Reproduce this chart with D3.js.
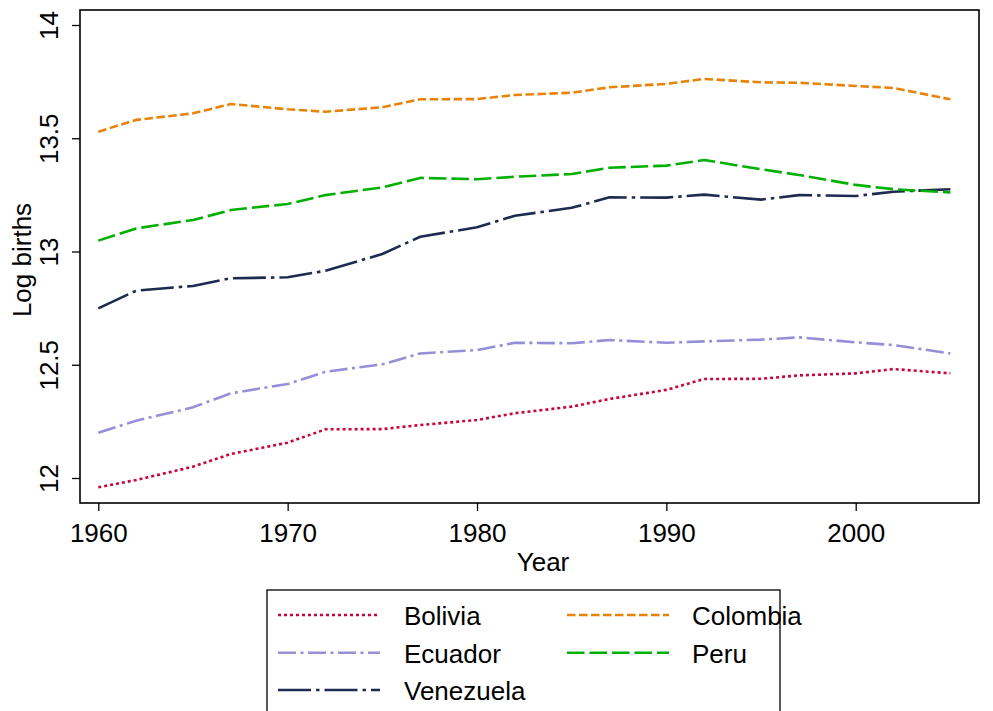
<!DOCTYPE html>
<html>
<head>
<meta charset="utf-8">
<script src="https://cdn.jsdelivr.net/npm/d3@7"></script>
<style>
  html, body { margin: 0; padding: 0; background: #fff; }
  svg { display: block; font-family: "Liberation Sans", Arial, sans-serif; }
</style>
</head>
<body>
<svg id="chart" width="993" height="711"></svg>
<script>
const years = [1960, 1962, 1965, 1967, 1970, 1972, 1975, 1977, 1980, 1982, 1985, 1987, 1990, 1992, 1995, 1997, 2000, 2002, 2005];
const bolivia   = [11.959, 11.991, 12.050, 12.106, 12.156, 12.215, 12.216, 12.234, 12.256, 12.286, 12.315, 12.349, 12.389, 12.437, 12.438, 12.453, 12.462, 12.481, 12.462];
const colombia  = [13.529, 13.581, 13.610, 13.651, 13.628, 13.617, 13.637, 13.672, 13.673, 13.691, 13.701, 13.725, 13.740, 13.762, 13.747, 13.745, 13.731, 13.722, 13.672];
const ecuador   = [12.200, 12.253, 12.312, 12.374, 12.415, 12.469, 12.502, 12.550, 12.565, 12.597, 12.595, 12.609, 12.597, 12.603, 12.611, 12.621, 12.599, 12.587, 12.550];
const peru      = [13.048, 13.102, 13.139, 13.183, 13.210, 13.249, 13.283, 13.325, 13.319, 13.330, 13.342, 13.370, 13.379, 13.404, 13.363, 13.338, 13.294, 13.275, 13.261];
const venezuela = [12.749, 12.827, 12.848, 12.882, 12.886, 12.915, 12.989, 13.065, 13.107, 13.158, 13.193, 13.239, 13.238, 13.251, 13.229, 13.249, 13.245, 13.264, 13.275];
const xTicks = [1960, 1970, 1980, 1990, 2000];
const yTicks = [12, 12.5, 13, 13.5, 14];
const yTickLabels = ["12", "12.5", "13", "13.5", "14"];
const countryNames = ["Bolivia", "Colombia", "Ecuador", "Peru", "Venezuela"];

const series = [
  { name: "Bolivia",   values: bolivia,   color: "#c8063a", dash: "3,3" },
  { name: "Colombia",  values: colombia,  color: "#e8830a", dash: "8.5,3.5" },
  { name: "Ecuador",   values: ecuador,   color: "#958fd8", dash: "18,4.5,3,4.5" },
  { name: "Peru",      values: peru,      color: "#00b000", dash: "17.5,5" },
  { name: "Venezuela", values: venezuela, color: "#1e2b50", dash: "33,5,3.5,5" }
];

const FS = 26;
const svg = d3.select("#chart");
const plot = { left: 80, top: 10, right: 979, bottom: 503 };

const x = d3.scaleLinear().domain([1960, 2000]).range([98.3, 855.7]);
const y = d3.scaleLinear().domain([12, 14]).range([478, 25]);

// lines
const line = d3.line().x((d, i) => x(years[i])).y(d => y(d));
const lineOrder = ["Bolivia", "Ecuador", "Venezuela", "Peru", "Colombia"];
lineOrder.forEach(n => {
  const s = series.find(t => t.name === n);
  svg.append("path")
    .datum(s.values)
    .attr("d", line)
    .attr("fill", "none")
    .attr("stroke", s.color)
    .attr("stroke-width", 2.6)
    .attr("stroke-dasharray", s.dash)
    .attr("stroke-linejoin", "round");
});

// frame
svg.append("rect")
  .attr("x", plot.left).attr("y", plot.top)
  .attr("width", plot.right - plot.left).attr("height", plot.bottom - plot.top)
  .attr("fill", "none").attr("stroke", "#000").attr("stroke-width", 1.6);

// x axis
const xAxis = d3.axisBottom(x).tickValues(xTicks).tickFormat(d3.format("d")).tickSize(8).tickPadding(13);
const gx = svg.append("g").attr("transform", `translate(0,${plot.bottom})`).call(xAxis);
gx.select(".domain").remove();
gx.selectAll("line").attr("stroke", "#000").attr("stroke-width", 1.3);
gx.selectAll("text").attr("font-size", FS).attr("fill", "#000")
  .attr("font-family", "Liberation Sans, Arial, sans-serif");

// y axis
const yAxis = d3.axisLeft(y).tickValues(yTicks).tickFormat((d, i) => yTickLabels[i]).tickSize(8).tickPadding(0);
const gy = svg.append("g").attr("transform", `translate(${plot.left},0)`).call(yAxis);
gy.select(".domain").remove();
gy.selectAll("line").attr("stroke", "#000").attr("stroke-width", 1.3);
gy.selectAll("text")
  .attr("font-size", FS).attr("fill", "#000")
  .attr("font-family", "Liberation Sans, Arial, sans-serif")
  .attr("text-anchor", "middle")
  .attr("dy", null)
  .attr("x", 0)
  .attr("y", 0)
  .attr("transform", "translate(-22,0) rotate(-90)");

// axis titles
svg.append("text").attr("x", 543).attr("y", 571).attr("text-anchor", "middle")
  .attr("font-size", FS).attr("fill", "#000").text("Year");
svg.append("text").attr("transform", "translate(31,260) rotate(-90)").attr("text-anchor", "middle")
  .attr("font-size", FS).attr("fill", "#000").text("Log births");

// legend
const lg = svg.append("g");
lg.append("rect").attr("x", 267).attr("y", 590).attr("width", 513).attr("height", 140)
  .attr("fill", "#fff").attr("stroke", "#000").attr("stroke-width", 1.3);
const legendPos = {
  Bolivia:   { x: 278, y: 615, tx: 404 },
  Colombia:  { x: 567, y: 615, tx: 692 },
  Ecuador:   { x: 278, y: 652.7, tx: 404 },
  Peru:      { x: 567, y: 652.7, tx: 692 },
  Venezuela: { x: 278, y: 690, tx: 404 }
};
countryNames.forEach(n => {
  const s = series.find(t => t.name === n);
  const p = legendPos[n];
  lg.append("line").attr("x1", p.x).attr("x2", p.x + 102).attr("y1", p.y).attr("y2", p.y)
    .attr("stroke", s.color).attr("stroke-width", 2.6).attr("stroke-dasharray", s.dash);
  lg.append("text").attr("x", p.tx).attr("y", p.y + 10).attr("font-size", FS).attr("fill", "#000").text(n);
});
</script>
</body>
</html>
